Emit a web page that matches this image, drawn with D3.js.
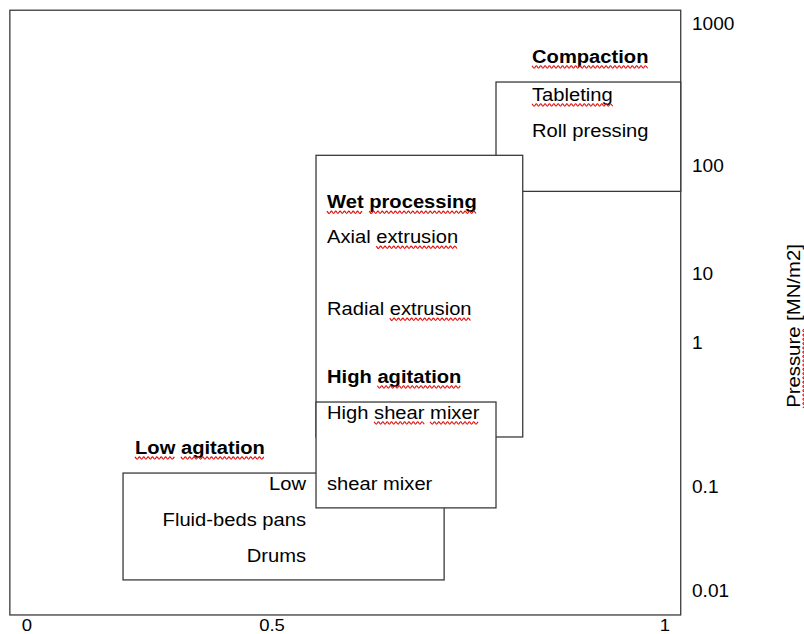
<!DOCTYPE html>
<html><head><meta charset="utf-8">
<script src="https://cdn.jsdelivr.net/npm/d3@7"></script>
<style>body{margin:0;background:#fff}svg{display:block}text{font-family:"Liberation Sans",Arial,sans-serif;fill:#000}</style>
</head><body><svg id="c" width="804" height="634"></svg>
<script>
// ---------- data ----------
const xTicks = [0, 0.5, 1];
const xTickLabels = ["0", "0.5", "1"];
const yTicks = [1000, 100, 10, 1, 0.1, 0.01];
const yTickLabels = ["1000", "100", "10", "1", "0.1", "0.01"];
const yTitle = "Pressure [MN/m2]";
// process groups (drawing order)
const groups = ["Compaction", "Wet processing", "Low agitation", "High agitation"];
const groupX0 = [0.785, 0.556, 0.196, 0.556];
const groupX1 = [1.02, 0.819, 0.719, 0.785];
const groupPHigh = [384, 117, 0.123, 0.383];   // MN/m2
const groupPLow = [57, 0.219, 0.0125, 0.0616]; // MN/m2
const groupItems = [
  ["Tableting", "Roll pressing"],
  ["Axial extrusion", "Radial extrusion"],
  ["Low", "Fluid-beds pans", "Drums"],
  ["High shear mixer", "shear mixer"]
];
// words flagged by the spell checker (word indexes)
const flagged = {
  "Compaction": [0], "Tableting": [0], "Wet processing": [0, 1],
  "Axial extrusion": [1], "Radial extrusion": [1], "High agitation": [1],
  "High shear mixer": [1, 2], "Low agitation": [0, 1], "Pressure [MN/m2]": [0]
};

// ---------- scales ----------
const x = d3.scaleLinear().domain([0, 0.5, 1]).range([27, 272, 665]);
const yl = d3.scaleLinear().domain([3, 2, 1, 0, -1, -2]).range([23, 165, 273, 342, 486, 590]);
const y = v => yl(Math.log10(v));
const xExt = [-0.035, 1.02], yExt = [Math.pow(10, 3.09), Math.pow(10, -2.24)];

const svg = d3.select("#c");
const SX = 1.09, FS = 18.5;
const stroke = "#3a3a3a", sw = 1.3;

function wavy(g, x0, x1, yb) {
  const pts = [];
  let i = 0;
  for (let xx = x0; xx <= x1 + 0.01; xx += 2, i++) pts.push([xx, yb + (i % 2 ? 1.2 : -1.2)]);
  g.append("path").attr("d", d3.line().curve(d3.curveMonotoneX)(pts))
    .attr("fill", "none").attr("stroke", "#e01010").attr("stroke-width", 1.1);
}

function label(str, px, py, opt = {}) {
  const g = svg.append("g").attr("transform", `translate(${px},${py}) ${opt.rotate ? "rotate(-90)" : ""} scale(${opt.sx || SX},1)`);
  const t = g.append("text").attr("x", 0).attr("y", 0)
    .attr("font-size", opt.fs || FS).attr("font-weight", opt.bold ? "bold" : "normal")
    .attr("text-anchor", opt.anchor || "start").text(str);
  const idxs = opt.noFlag ? null : flagged[str];
  if (idxs) {
    const node = t.node();
    const L = node.getComputedTextLength();
    const start = opt.anchor === "end" ? -L : opt.anchor === "middle" ? -L / 2 : 0;
    const words = str.split(" ");
    let ci = 0;
    const offs = words.map(w => { const o = ci; ci += w.length + 1; return o; });
    idxs.forEach(k => {
      const a = offs[k] > 0 ? node.getSubStringLength(0, offs[k]) : 0;
      const w = node.getSubStringLength(offs[k], words[k].length);
      wavy(g, start + a, start + a + w, 4);
    });
  }
  return g;
}

// ---------- frame ----------
svg.append("rect")
  .attr("x", x(xExt[0])).attr("y", y(yExt[0]))
  .attr("width", x(xExt[1]) - x(xExt[0])).attr("height", y(yExt[1]) - y(yExt[0]))
  .attr("fill", "none").attr("stroke", stroke).attr("stroke-width", sw);

// ---------- layout of labels relative to each box (px) ----------
const layout = [
  { tdx: 36, tdy: -19, idx: 36, idys: [19, 55], anchor: "start" },
  { tdx: 11, tdy: 53, idx: 11, idys: [88, 160], anchor: "start" },
  { tdx: 12, tdy: -19, idx: 183, idys: [17, 53, 89], anchor: "end" },
  { tdx: 11, tdy: -19, idx: 11, idys: [17, 88], anchor: "start" }
];

groups.forEach((name, i) => {
  const bx = x(groupX0[i]), bx1 = x(groupX1[i]);
  const by = y(groupPHigh[i]), by1 = y(groupPLow[i]);
  svg.append("rect").attr("x", bx).attr("y", by)
    .attr("width", bx1 - bx).attr("height", by1 - by)
    .attr("fill", "#fff").attr("stroke", stroke).attr("stroke-width", sw);
  const L = layout[i];
  label(name, bx + L.tdx, by + L.tdy, { bold: true });
  groupItems[i].forEach((it, j) => {
    label(it, bx + L.idx, by + L.idys[j], { anchor: L.anchor, noFlag: (i === 2 && it === "Low") || (i === 3 && j === 1) });
  });
});

// ---------- axes labels ----------
xTicks.forEach((v, i) => label(xTickLabels[i], x(v), 631, { anchor: "middle", fs: 17 }));
yTicks.forEach((v, i) => label(yTickLabels[i], 692, y(v) + 6.5, { fs: 17.5 }));
label(yTitle, 800, 326, { rotate: true, anchor: "middle", fs: 19, sx: 1.07 });
</script>
</body></html>
